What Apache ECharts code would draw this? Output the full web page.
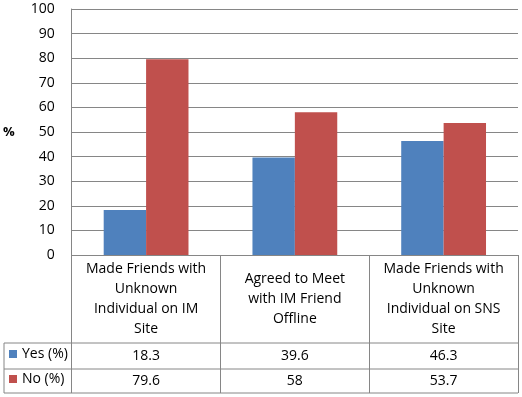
<!DOCTYPE html>
<html>
<head>
<meta charset="utf-8">
<script src="https://cdn.jsdelivr.net/npm/echarts@6/dist/echarts.min.js"></script>
<style>
  html, body { margin: 0; padding: 0; background: #fff; }
  #main { width: 522px; height: 397px; }
</style>
</head>
<body>
<div id="main"></div>
<script>
// categories (line breaks as wrapped in the table header)
var categories = [
    'Made Friends with\nUnknown\nIndividual on IM\nSite',
    'Agreed to Meet\nwith IM Friend\nOffline',
    'Made Friends with\nUnknown\nIndividual on SNS\nSite'
];
var yesValues = [18.3, 39.6, 46.3];
var noValues = [79.6, 58, 53.7];
var seriesNames = ['Yes (%)', 'No (%)'];
var yTicks = [0, 100, 10];

var fontName = 'Open Sans';
var fontSize = 14;
var lineColor = '#868686';

// plot area / table layout
var plotLeft = 70, plotRight = 518, plotTop = 9, plotBottom = 255;
var tableLeft = 4, row1 = 343, row2 = 369, row3 = 393;

var myChart = echarts.init(document.getElementById('main'));

function hLine(y) {
    return {
        type: 'line',
        shape: { x1: tableLeft, y1: y, x2: plotRight, y2: y },
        style: { stroke: lineColor, lineWidth: 1 }
    };
}

var option = {
    animation: false,
    backgroundColor: '#fff',
    textStyle: { fontFamily: fontName },
    grid: {
        left: plotLeft,
        right: 522 - plotRight,
        top: plotTop,
        bottom: 397 - plotBottom
    },
    legend: [
        {
            data: [seriesNames[0]],
            left: 9, top: (row1 + row2) / 2 - 9,
            padding: 0, itemWidth: 8, itemHeight: 8, icon: 'rect',
            selectedMode: false,
            textStyle: { fontSize: fontSize, color: '#000', fontFamily: fontName }
        },
        {
            data: [seriesNames[1]],
            left: 9, top: (row2 + row3) / 2 - 9,
            padding: 0, itemWidth: 8, itemHeight: 8, icon: 'rect',
            selectedMode: false,
            textStyle: { fontSize: fontSize, color: '#000', fontFamily: fontName }
        }
    ],
    xAxis: [
        {
            type: 'category',
            data: categories,
            axisLine: { lineStyle: { color: lineColor } },
            axisTick: { show: true, length: row3 - plotBottom, lineStyle: { color: lineColor } },
            axisLabel: {
                interval: 0,
                margin: (row1 - plotBottom) / 2,
                verticalAlign: 'middle',
                lineHeight: 20,
                fontSize: fontSize,
                color: '#000',
                fontFamily: fontName
            }
        },
        {
            type: 'category',
            data: yesValues.map(String),
            position: 'bottom',
            axisLine: { show: false },
            axisTick: { show: false },
            axisLabel: {
                interval: 0,
                margin: (row1 + row2) / 2 - plotBottom,
                verticalAlign: 'middle',
                fontSize: fontSize,
                color: '#000',
                fontFamily: fontName
            }
        },
        {
            type: 'category',
            data: noValues.map(String),
            position: 'bottom',
            axisLine: { show: false },
            axisTick: { show: false },
            axisLabel: {
                interval: 0,
                margin: (row2 + row3) / 2 - plotBottom,
                verticalAlign: 'middle',
                fontSize: fontSize,
                color: '#000',
                fontFamily: fontName
            }
        }
    ],
    yAxis: {
        type: 'value',
        min: yTicks[0],
        max: yTicks[1],
        interval: yTicks[2],
        name: '%',
        nameLocation: 'middle',
        nameRotate: 0,
        nameGap: 57,
        nameTextStyle: { fontSize: 13, fontWeight: 'bold', color: '#000', fontFamily: fontName },
        axisLine: { show: true, lineStyle: { color: lineColor } },
        axisTick: { show: false },
        axisLabel: { margin: 17, fontSize: fontSize, color: '#000', fontFamily: fontName },
        splitLine: { lineStyle: { color: lineColor } }
    },
    series: [
        {
            name: seriesNames[0],
            type: 'bar',
            data: yesValues,
            barGap: 0,
            barCategoryGap: '43%',
            itemStyle: { color: '#4F81BD' }
        },
        {
            name: seriesNames[1],
            type: 'bar',
            data: noValues,
            barGap: 0,
            barCategoryGap: '43%',
            itemStyle: { color: '#C0504D' }
        }
    ],
    graphic: [
        hLine(row1),
        hLine(row2),
        hLine(row3),
        {
            type: 'line',
            shape: { x1: tableLeft, y1: row1, x2: tableLeft, y2: row3 },
            style: { stroke: lineColor, lineWidth: 1 }
        }
    ]
};

myChart.setOption(option);

window.addEventListener('resize', function () {
    myChart.resize();
});
</script>
</body>
</html>
